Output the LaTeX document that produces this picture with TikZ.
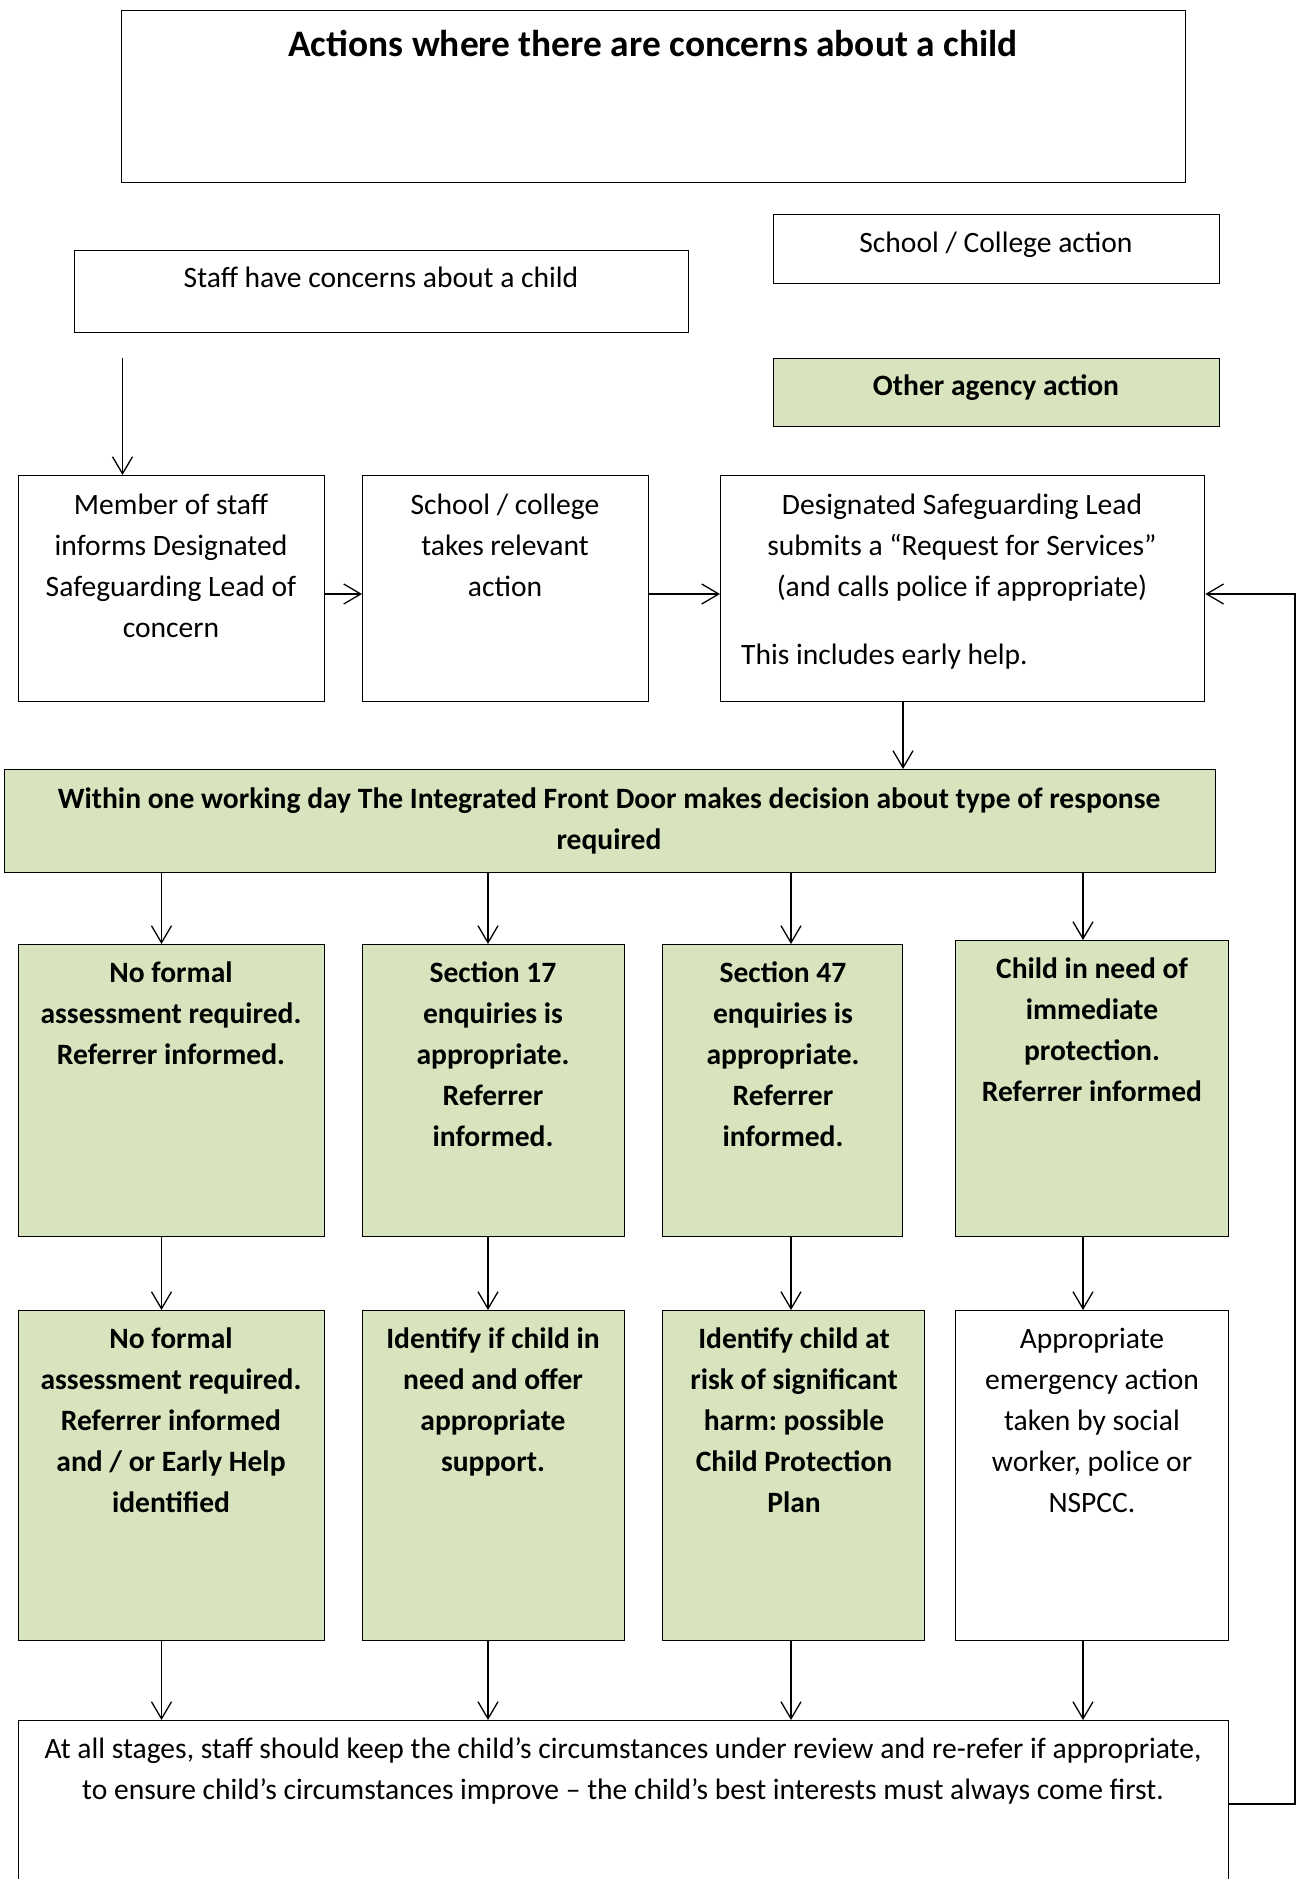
\documentclass[tikz,border=0pt]{standalone}
\usepackage{fontspec}
\setmainfont{Carlito}
\usetikzlibrary{arrows.meta}
\definecolor{leaf}{HTML}{D7E4BD}
\newcommand{\bodyfont}{\fontsize{29.55}{41.2}\selectfont\frenchspacing}
\newcommand{\headfont}{\fontsize{37.4}{45}\selectfont\bfseries}
\begin{document}
\begin{tikzpicture}[x=1pt,y=-1pt,
  box/.style={draw=black, line width=1.3pt, rectangle, inner sep=0pt, anchor=north west},
  gbox/.style={box, fill=leaf},
  txt/.style={inner sep=0pt, align=center, font=\bodyfont, anchor=base},
  btxt/.style={txt, font=\bodyfont\bfseries},
  arr/.style={line width=1.3pt, -{Straight Barb[length=17pt,width=20pt]}},
]
\useasboundingbox (0,0) rectangle (1303,1879);
\clip (0,0) rectangle (1303,1879);

% boxes
\node[box, minimum width=1064, minimum height=172] (title) at (121,10) {};
\node[box, minimum width=446, minimum height=69] (schoolact) at (773,214) {};
\node[box, minimum width=614, minimum height=82] (staff) at (74,250) {};
\node[gbox, minimum width=446, minimum height=68] (other) at (773,358) {};
\node[box, minimum width=306, minimum height=226] (member) at (18,475) {};
\node[box, minimum width=286, minimum height=226] (school) at (362,475) {};
\node[box, minimum width=484, minimum height=226] (dsl) at (720,475) {};
\node[gbox, minimum width=1211, minimum height=103] (ifd) at (4,769) {};
\node[gbox, minimum width=306, minimum height=292] (r1a) at (18,944) {};
\node[gbox, minimum width=262, minimum height=292] (r1b) at (362,944) {};
\node[gbox, minimum width=240, minimum height=292] (r1c) at (662,944) {};
\node[gbox, minimum width=273, minimum height=296] (r1d) at (955,940) {};
\node[gbox, minimum width=306, minimum height=330] (r2a) at (18,1310) {};
\node[gbox, minimum width=262, minimum height=330] (r2b) at (362,1310) {};
\node[gbox, minimum width=262, minimum height=330] (r2c) at (662,1310) {};
\node[box, minimum width=273, minimum height=330] (r2d) at (955,1310) {};
\node[box, minimum width=1210, minimum height=200] (bot) at (18,1720) {};

% texts (multi-line nodes are anchored at the baseline of their last line)
\node[txt, font=\headfont] (titleT) at (653,56) {Actions where there are concerns about a child};
\node[txt] (schoolactT) at (996,252) {School / College action};
\node[txt] (staffT) at (381,287) {Staff have concerns about a child};
\node[btxt] (otherT) at (996,395) {Other agency action};
\node[txt] (memberT) at (171,637.6) {Member of staff\\informs Designated\\Safeguarding Lead of\\concern};
\node[txt] (schoolT) at (505,596.4) {School / college\\takes relevant\\action};
\node[txt] (dslT) at (962,596.4) {Designated Safeguarding Lead\\submits a “Request for Services”\\(and calls police if appropriate)};
\node[txt, anchor=base west] (dslT2) at (741,664) {This includes early help.};
\node[btxt] (ifdT) at (609,849.2) {Within one working day The Integrated Front Door makes decision about type of response\\required};
\node[btxt] (r1aT) at (171,1064.4) {No formal\\assessment required.\\Referrer informed.};
\node[btxt] (r1bT) at (493,1146.8) {Section 17\\enquiries is\\appropriate.\\Referrer\\informed.};
\node[btxt] (r1cT) at (783,1146.8) {Section 47\\enquiries is\\appropriate.\\Referrer\\informed.};
\node[btxt] (r1dT) at (1092,1101.6) {Child in need of\\immediate\\protection.\\Referrer informed};
\node[btxt] (r2aT) at (171,1512.8) {No formal\\assessment required.\\Referrer informed\\and / or Early Help\\identified};
\node[btxt] (r2bT) at (493,1471.6) {Identify if child in\\need and offer\\appropriate\\support.};
\node[btxt] (r2cT) at (794,1512.8) {Identify child at\\risk of significant\\harm: possible\\Child Protection\\Plan};
\node[txt] (r2dT) at (1092,1512.8) {Appropriate\\emergency action\\taken by social\\worker, police or\\NSPCC.};
\node[txt] (botT) at (623,1799.2) {At all stages, staff should keep the child’s circumstances under review and re-refer if appropriate,\\to ensure child’s circumstances improve – the child’s best interests must always come first.};

% connectors
\coordinate (s0) at (122.5,358);
\coordinate (lvl) at (0,594);
\coordinate (dx) at (903,0);
\coordinate (c1) at (161.5,0);
\coordinate (c2) at (488,0);
\coordinate (c3) at (791,0);
\coordinate (c4) at (1083,0);
\coordinate (fb) at (1295,1804);

\draw[arr] (s0) -- (s0 |- member.north);
\draw[arr] (member.east |- lvl) -- (school.west |- lvl);
\draw[arr] (school.east |- lvl) -- (dsl.west |- lvl);
\draw[arr] (dsl.south -| dx) -- (ifd.north -| dx);
\draw[arr] (ifd.south -| c1) -- (r1a.north -| c1);
\draw[arr] (ifd.south -| c2) -- (r1b.north -| c2);
\draw[arr] (ifd.south -| c3) -- (r1c.north -| c3);
\draw[arr] (ifd.south -| c4) -- (r1d.north -| c4);
\draw[arr] (r1a.south -| c1) -- (r2a.north -| c1);
\draw[arr] (r1b.south -| c2) -- (r2b.north -| c2);
\draw[arr] (r1c.south -| c3) -- (r2c.north -| c3);
\draw[arr] (r1d.south -| c4) -- (r2d.north -| c4);
\draw[arr] (r2a.south -| c1) -- (bot.north -| c1);
\draw[arr] (r2b.south -| c2) -- (bot.north -| c2);
\draw[arr] (r2c.south -| c3) -- (bot.north -| c3);
\draw[arr] (r2d.south -| c4) -- (bot.north -| c4);
\draw[arr] (bot.east |- fb) -- (fb) -- (fb |- lvl) -- (dsl.east |- lvl);
\end{tikzpicture}
\end{document}
